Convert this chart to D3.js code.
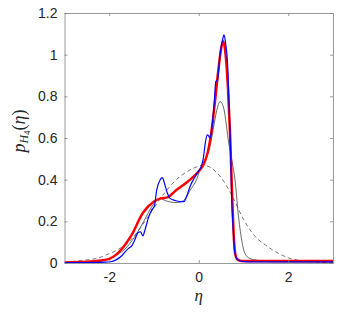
<!DOCTYPE html>
<html><head><meta charset="utf-8">
<script src="https://cdn.jsdelivr.net/npm/d3@7"></script>
<style>body{margin:0;background:#fff}svg{display:block}</style>
</head><body><svg id="c" width="354" height="315"></svg>
<script>
const xTicks = [-2, 0, 2];
const yTicks = [0, 0.2, 0.4, 0.6, 0.8, 1, 1.2];
const yTickLabels = ["0", "0.2", "0.4", "0.6", "0.8", "1", "1.2"];

const gaussX = [-3, -2.5, -2.28, -2, -1.9, -1.5, -1.25, -1, -0.75, -0.5, -0.25, 0, 0.1, 0.25, 0.5, 0.75, 1, 1.25, 1.5, 1.75, 2, 2.25, 2.5, 2.75, 3];
const gaussY = [0.004, 0.015, 0.022, 0.045, 0.054, 0.115, 0.185, 0.265, 0.34, 0.40, 0.44, 0.465, 0.47, 0.46, 0.41, 0.32, 0.21, 0.13, 0.085, 0.05, 0.025, 0.012, 0.006, 0.003, 0.001];

const blackX = [-3, -2.5, -2.12, -1.83, -1.6, -1.38, -1.23, -1.0, -0.86, -0.75, -0.64, -0.49, -0.34, -0.19, -0.05, 0.03, 0.18, 0.25, 0.33, 0.4, 0.475, 0.55, 0.6, 0.66, 0.75, 0.81, 0.88, 0.96, 1.03, 1.14, 1.29, 1.6, 3];
const blackY = [0.002, 0.006, 0.014, 0.038, 0.078, 0.143, 0.2, 0.285, 0.31, 0.30, 0.293, 0.29, 0.30, 0.35, 0.40, 0.45, 0.51, 0.56, 0.65, 0.73, 0.775, 0.75, 0.69, 0.59, 0.48, 0.4, 0.24, 0.11, 0.047, 0.022, 0.014, 0.006, 0.004];

const redX = [-3, -2.5, -2.2, -2, -1.75, -1.5, -1.25, -1.0, -0.85, -0.7, -0.5, -0.25, 0, 0.1, 0.2, 0.29, 0.36, 0.44, 0.51, 0.55, 0.6, 0.65, 0.7, 0.75, 0.78, 0.81, 0.86, 0.95, 1.5, 2, 3];
const redY = [0.003, 0.006, 0.012, 0.02, 0.06, 0.135, 0.24, 0.295, 0.31, 0.315, 0.35, 0.39, 0.44, 0.47, 0.53, 0.64, 0.77, 0.93, 1.04, 1.065, 1.0, 0.85, 0.62, 0.3, 0.14, 0.05, 0.018, 0.01, 0.01, 0.01, 0.01];

const blueX = [-3, -2.5, -2.1, -1.98, -1.85, -1.72, -1.64, -1.57, -1.49, -1.43, -1.36, -1.3, -1.25, -1.2, -1.12, -1.05, -0.99, -0.94, -0.86, -0.81, -0.77, -0.70, -0.64, -0.53, -0.42, -0.33, -0.27, -0.19, -0.12, -0.01, 0.05, 0.1, 0.15, 0.19, 0.22, 0.25, 0.29, 0.35, 0.38, 0.42, 0.47, 0.53, 0.565, 0.6, 0.65, 0.675, 0.71, 0.735, 0.77, 0.81, 0.85, 0.96, 1.2, 3];
const blueY = [0.002, 0.002, 0.004, 0.006, 0.015, 0.035, 0.055, 0.07, 0.085, 0.11, 0.145, 0.15, 0.13, 0.16, 0.22, 0.255, 0.275, 0.35, 0.40, 0.41, 0.385, 0.335, 0.31, 0.30, 0.295, 0.295, 0.32, 0.37, 0.40, 0.44, 0.46, 0.50, 0.58, 0.615, 0.61, 0.60, 0.64, 0.78, 0.87, 0.88, 0.99, 1.07, 1.095, 1.055, 0.93, 0.77, 0.55, 0.32, 0.16, 0.047, 0.02, 0.008, 0.005, 0.005];

const svg = d3.select("#c");
const L = 64.5, R = 333, T = 13, B = 263;
const x = d3.scaleLinear().domain([-3, 3]).range([L, R]);
const y = d3.scaleLinear().domain([0, 1.2]).range([B, T]);

const line = d3.line().x(d => x(d[0])).y(d => y(d[1])).curve(d3.curveMonotoneX);
const zip = (a, b) => a.map((v, i) => [v, b[i]]);

svg.append("clipPath").attr("id", "cl").append("rect")
  .attr("x", L).attr("y", T).attr("width", R - L).attr("height", B - T);
const g = svg.append("g").attr("clip-path", "url(#cl)");

g.append("path").datum(zip(gaussX, gaussY)).attr("d", line)
  .attr("fill", "none").attr("stroke", "#555").attr("stroke-width", 0.8).attr("stroke-dasharray", "4,3");
g.append("path").datum(zip(blackX, blackY)).attr("d", line)
  .attr("fill", "none").attr("stroke", "#404040").attr("stroke-width", 0.8);
g.append("path").datum(zip(redX, redY)).attr("d", line)
  .attr("fill", "none").attr("stroke", "#ff0000").attr("stroke-width", 2.5);
g.append("path").datum(zip(blueX, blueY)).attr("d", line)
  .attr("fill", "none").attr("stroke", "#0000ff").attr("stroke-width", 1.2);

// axes box
const axCol = "#808080";
const tickFont = "'Liberation Sans', Arial, Helvetica, sans-serif";
const axB = svg.append("g").attr("transform", `translate(0,${B})`)
  .call(d3.axisBottom(x).tickValues(xTicks).tickSizeInner(-3).tickSizeOuter(0).tickPadding(9).tickFormat(d => d));
const axT = svg.append("g").attr("transform", `translate(0,${T})`)
  .call(d3.axisTop(x).tickValues(xTicks).tickSizeInner(-3).tickSizeOuter(0).tickFormat(""));
const axL = svg.append("g").attr("transform", `translate(${L},0)`)
  .call(d3.axisLeft(y).tickValues(yTicks).tickSizeInner(-3).tickSizeOuter(0).tickPadding(7).tickFormat((d, i) => yTickLabels[i]));
const axR = svg.append("g").attr("transform", `translate(${R},0)`)
  .call(d3.axisRight(y).tickValues(yTicks).tickSizeInner(-3).tickSizeOuter(0).tickFormat(""));
[axB, axT, axL, axR].forEach(a => {
  a.selectAll("path.domain").attr("stroke", axCol).attr("stroke-width", 0.8);
  a.selectAll(".tick line").attr("stroke", axCol).attr("stroke-width", 0.8);
  a.selectAll("text").attr("fill", "#262626").style("font-family", tickFont).style("font-size", "14px");
});

// labels
const serif = "'Liberation Serif', 'DejaVu Serif', serif";
svg.append("text").attr("x", x(0)).attr("y", 301).attr("text-anchor", "middle")
  .style("font-family", serif).style("font-style", "italic").style("font-size", "17px").attr("fill", "#262626").text("η");

const yl = svg.append("text").attr("transform", "translate(25,131) rotate(-90)").attr("text-anchor", "middle")
  .style("font-family", serif).style("font-size", "18px").attr("fill", "#262626");
yl.append("tspan").style("font-style", "italic").text("p");
yl.append("tspan").style("font-style", "italic").style("font-size", "12px").attr("dy", 3).text("H");
yl.append("tspan").style("font-size", "9px").attr("dy", 2).text("4");
yl.append("tspan").attr("dy", -5).text("(");
yl.append("tspan").style("font-style", "italic").text("η");
yl.append("tspan").text(")");
</script></body></html>
